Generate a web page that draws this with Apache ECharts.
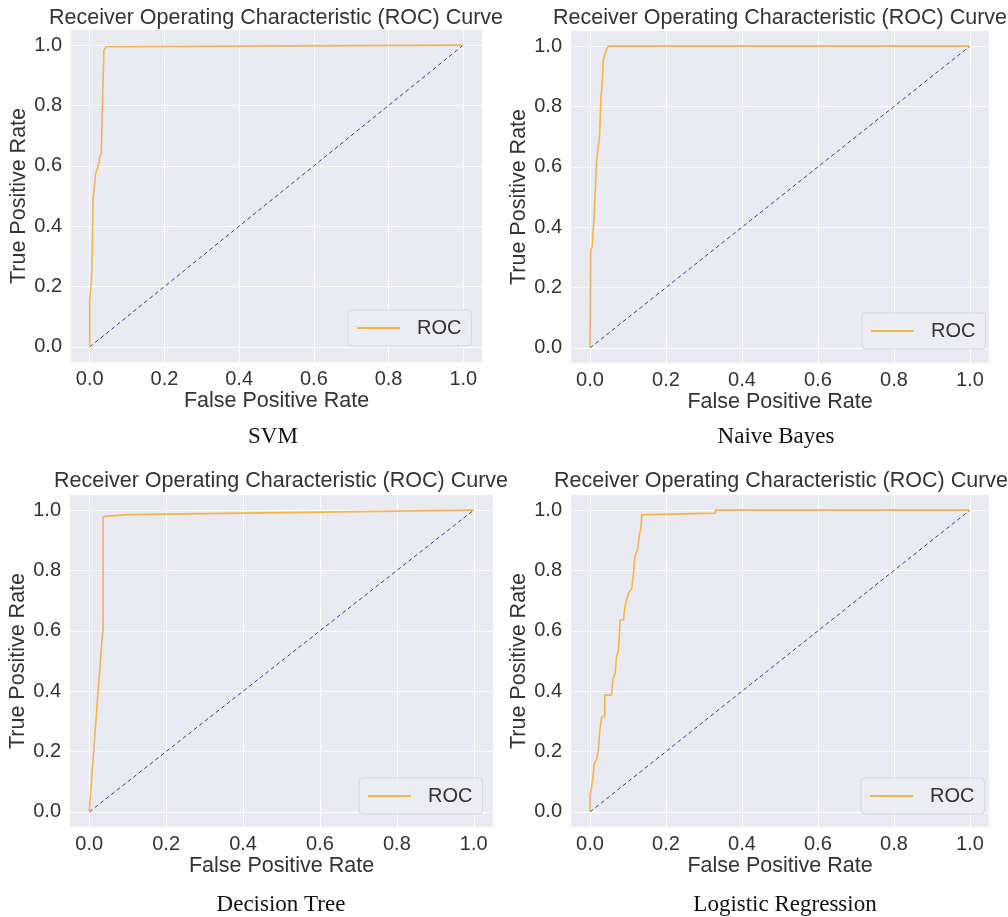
<!DOCTYPE html>
<html>
<head>
<meta charset="utf-8">
<script src="https://cdn.jsdelivr.net/npm/echarts@6/dist/echarts.min.js"></script>
<style>html,body{margin:0;padding:0;background:#fff}#c{width:1008px;height:917px}</style>
</head>
<body>
<div id="c"></div>
<script>
// ---- data ----
const tickValues = [0, 0.2, 0.4, 0.6, 0.8, 1.0];
const panelTitle = 'Receiver Operating Characteristic (ROC) Curve';
const xName = 'False Positive Rate';
const yName = 'True Positive Rate';
const legendName = 'ROC';
const captions = ['SVM', 'Naive Bayes', 'Decision Tree', 'Logistic Regression'];

const svmFpr = [0, 0, 0.0045, 0.0045, 0.007, 0.009, 0.012, 0.016, 0.023, 0.027, 0.031, 0.033, 0.038, 0.045, 0.098, 0.098, 1];
const svmTpr = [0, 0.155, 0.155, 0.22, 0.31, 0.49, 0.52, 0.575, 0.6, 0.63, 0.64, 0.75, 0.983, 0.995, 0.995, 1, 1];

const nbFpr = [0, 0.002, 0.006, 0.012, 0.0175, 0.025, 0.029, 0.032, 0.035, 0.04, 0.048, 1];
const nbTpr = [0, 0.325, 0.335, 0.468, 0.623, 0.7, 0.832, 0.871, 0.954, 0.976, 1, 1];

const dtFpr = [0, 0.033, 0.036, 0.036, 0.046, 0.1, 1];
const dtTpr = [0, 0.57, 0.6, 0.978, 0.98, 0.985, 1];

const lrFpr = [0, 0, 0.004, 0.006, 0.009, 0.011, 0.018, 0.022, 0.026, 0.031, 0.039, 0.039, 0.057, 0.06, 0.066, 0.07, 0.075, 0.077, 0.079, 0.088, 0.092, 0.101, 0.11, 0.114, 0.118, 0.118, 0.125, 0.13, 0.134, 0.136, 0.14, 0.33, 0.33, 1];
const lrTpr = [0, 0.05, 0.05, 0.1, 0.128, 0.159, 0.177, 0.205, 0.271, 0.316, 0.316, 0.387, 0.387, 0.437, 0.459, 0.514, 0.536, 0.58, 0.636, 0.636, 0.68, 0.724, 0.74, 0.785, 0.785, 0.846, 0.868, 0.917, 0.94, 0.984, 0.99, 0.99, 1, 1];

const chanceFpr = [0, 1];
const chanceTpr = [0, 1];

// ---- layout ----
const SANS = '"Liberation Sans", Arial, sans-serif';
const SERIF = '"Liberation Serif", "Times New Roman", serif';
const ORANGE = '#F5B54A';
const grids = [
  {left: 71, top: 30, width: 411, height: 332},
  {left: 571, top: 31, width: 418, height: 332},
  {left: 70, top: 495, width: 423, height: 332},
  {left: 571, top: 495, width: 418, height: 332}
];
const legendPos = [
  {left: 348, top: 310},
  {left: 862, top: 313},
  {left: 359, top: 778},
  {left: 861, top: 778}
];
const rocSets = [[svmFpr, svmTpr], [nbFpr, nbTpr], [dtFpr, dtTpr], [lrFpr, lrTpr]];
const zip = (a, b) => a.map((v, i) => [v, b[i]]);

const option = {
  animation: false,
  backgroundColor: '#ffffff',
  grid: grids.map(g => Object.assign({show: true, backgroundColor: '#EAEAF2', borderWidth: 0}, g)),
  xAxis: grids.map((g, i) => ({
    gridIndex: i, type: 'value', min: -0.05, max: 1.05,
    name: xName, nameLocation: 'middle', nameGap: 26,
    nameTextStyle: {fontFamily: SANS, fontSize: 21.5, color: '#333'},
    axisLine: {show: false},
    axisTick: {show: false, customValues: tickValues},
    axisLabel: {customValues: tickValues, formatter: v => v.toFixed(1), margin: 7,
      fontFamily: SANS, fontSize: 20, color: '#333'},
    splitLine: {show: true, lineStyle: {color: '#ffffff', width: 1}}
  })),
  yAxis: grids.map((g, i) => ({
    gridIndex: i, type: 'value', min: -0.05, max: 1.05,
    name: yName, nameLocation: 'middle', nameGap: 40,
    nameTextStyle: {fontFamily: SANS, fontSize: 21.5, color: '#333'},
    axisLine: {show: false},
    axisTick: {show: false, customValues: tickValues},
    axisLabel: {customValues: tickValues, formatter: v => v.toFixed(1), margin: 9,
      fontFamily: SANS, fontSize: 20, color: '#333'},
    splitLine: {show: true, lineStyle: {color: '#ffffff', width: 1}}
  })),
  legend: legendPos.map(p => ({
    left: p.left, top: p.top, orient: 'vertical',
    data: [{name: legendName, icon: 'rect'}],
    itemWidth: 43, itemHeight: 2,
    itemStyle: {color: ORANGE},
    padding: [8, 10, 8, 9],
    backgroundColor: 'rgba(236,236,243,0.9)',
    borderColor: '#d6d6de', borderWidth: 1, borderRadius: 4,
    selectedMode: false,
    textStyle: {fontFamily: SANS, fontSize: 20, color: '#333', padding: [0, 0, 0, 12]}
  })),
  series: [],
  graphic: []
};

rocSets.forEach((s, i) => {
  option.series.push({
    name: legendName, type: 'line', xAxisIndex: i, yAxisIndex: i,
    data: zip(s[0], s[1]), symbol: 'none', showSymbol: false,
    lineStyle: {color: ORANGE, width: 1.6}, itemStyle: {color: ORANGE},
    z: 3
  });
  option.series.push({
    name: 'chance', type: 'line', xAxisIndex: i, yAxisIndex: i,
    data: zip(chanceFpr, chanceTpr), symbol: 'none', showSymbol: false,
    lineStyle: {color: '#3b3b8c', width: 1, type: [4, 3]},
    z: 2
  });
});

const titleCenters = [[276, 18], [780, 18], [281, 481], [781, 481]];
const captionCenters = [[273, 437], [776, 437], [281, 905], [785, 905]];
titleCenters.forEach(c => option.graphic.push({
  type: 'text', x: c[0], y: c[1],
  style: {text: panelTitle, font: '21.5px ' + SANS, fill: '#333', textAlign: 'center', textVerticalAlign: 'middle'}
}));
captionCenters.forEach((c, i) => option.graphic.push({
  type: 'text', x: c[0], y: c[1],
  style: {text: captions[i], font: '23px ' + SERIF, fill: '#111', textAlign: 'center', textVerticalAlign: 'middle'}
}));

const chart = echarts.init(document.getElementById('c'), null, {renderer: 'canvas'});
chart.setOption(option);
</script>
</body>
</html>
